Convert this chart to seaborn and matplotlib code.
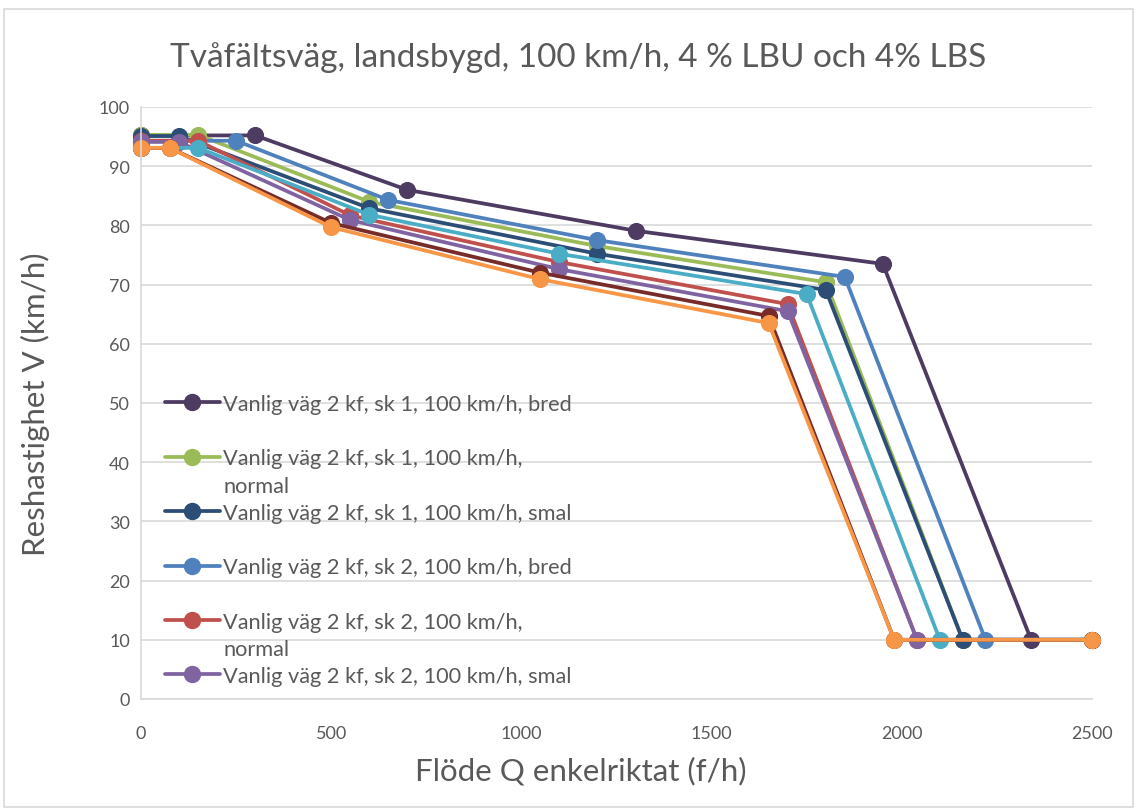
import matplotlib
matplotlib.use("Agg")
import matplotlib.pyplot as plt
import seaborn as sns
import pandas as pd
from matplotlib.lines import Line2D
from matplotlib.patches import Rectangle

# ---------------- data ----------------
title = "Tvåfältsväg, landsbygd, 100 km/h, 4 % LBU och 4% LBS"
x_label = "Flöde Q enkelriktat (f/h)"
y_label = "Reshastighet V (km/h)"

series_names = [
    "Vanlig väg 2 kf, sk 1, 100 km/h, bred",
    "Vanlig väg 2 kf, sk 1, 100 km/h, normal",
    "Vanlig väg 2 kf, sk 1, 100 km/h, smal",
    "Vanlig väg 2 kf, sk 2, 100 km/h, bred",
    "Vanlig väg 2 kf, sk 2, 100 km/h, normal",
    "Vanlig väg 2 kf, sk 2, 100 km/h, smal",
    "Vanlig väg 2 kf, sk 3, 100 km/h, bred",
    "Vanlig väg 2 kf, sk 3, 100 km/h, normal",
    "Vanlig väg 2 kf, sk 3, 100 km/h, smal",
]

q_sk1_bred = [0, 300, 700, 1300, 1950, 2340, 2500]
v_sk1_bred = [95.2, 95.2, 86.0, 79.1, 73.5, 10, 10]
q_sk1_normal = [0, 150, 600, 1200, 1800, 2160, 2500]
v_sk1_normal = [95.3, 95.3, 84.0, 76.5, 70.4, 10, 10]
q_sk1_smal = [0, 100, 600, 1200, 1800, 2160, 2500]
v_sk1_smal = [95.1, 95.1, 82.9, 75.2, 69.1, 10, 10]
q_sk2_bred = [0, 250, 650, 1200, 1850, 2220, 2500]
v_sk2_bred = [94.3, 94.3, 84.3, 77.5, 71.3, 10, 10]
q_sk2_normal = [0, 150, 550, 1100, 1700, 2040, 2500]
v_sk2_normal = [94.3, 94.3, 81.7, 73.8, 66.7, 10, 10]
q_sk2_smal = [0, 100, 550, 1100, 1700, 2040, 2500]
v_sk2_smal = [94.1, 94.1, 80.9, 72.6, 65.5, 10, 10]
q_sk3_bred = [0, 150, 600, 1100, 1750, 2100, 2500]
v_sk3_bred = [93.1, 93.1, 81.8, 75.2, 68.4, 10, 10]
q_sk3_normal = [0, 75, 500, 1050, 1650, 1980, 2500]
v_sk3_normal = [93.1, 93.1, 80.4, 72.0, 64.7, 10, 10]
q_sk3_smal = [0, 75, 500, 1050, 1650, 1980, 2500]
v_sk3_smal = [93.1, 93.1, 79.7, 70.9, 63.5, 10, 10]

x_ticks = [0, 500, 1000, 1500, 2000, 2500]
y_ticks = [0, 10, 20, 30, 40, 50, 60, 70, 80, 90, 100]

colors = ["#4D3B62", "#9BBB59", "#2C4D75", "#4F81BD", "#C0504D",
          "#8064A2", "#4BACC6", "#772C2A", "#F79646"]

all_q = [q_sk1_bred, q_sk1_normal, q_sk1_smal, q_sk2_bred, q_sk2_normal,
         q_sk2_smal, q_sk3_bred, q_sk3_normal, q_sk3_smal]
all_v = [v_sk1_bred, v_sk1_normal, v_sk1_smal, v_sk2_bred, v_sk2_normal,
         v_sk2_smal, v_sk3_bred, v_sk3_normal, v_sk3_smal]

rows = []
for name, qs, vs in zip(series_names, all_q, all_v):
    for i, (q, v) in enumerate(zip(qs, vs)):
        rows.append({"serie": name, "Q": q, "V": v, "idx": i})
df = pd.DataFrame(rows)

# ---------------- style ----------------
sns.set_style("white")
plt.rcParams['font.family'] = ['Lato', 'DejaVu Sans']
text_col = "#595959"
grid_col = "#D9D9D9"

W, H = 1137, 812
fig = plt.figure(figsize=(W / 100, H / 100), dpi=100)
ax = fig.add_axes([141 / W, 1 - 700 / H, (1092 - 141) / W, (700 - 108) / H])

sns.lineplot(data=df, x="Q", y="V", hue="serie", hue_order=series_names,
             palette=colors, estimator=None, sort=False, units="serie",
             marker="o", markersize=11.5, linewidth=2.7, legend=False, ax=ax)
for ln, c in zip(ax.lines, colors):
    ln.set_markeredgecolor(c)
    ln.set_markeredgewidth(0.8)
    ln.set_solid_joinstyle("round")
    ln.set_clip_on(False)

ax.set_xlim(0, 2500)
ax.set_ylim(0, 100)
ax.set_xticks(x_ticks)
ax.set_yticks(y_ticks)
ax.set_xticklabels([str(t) for t in x_ticks])
ax.set_yticklabels([str(t) for t in y_ticks])
ax.tick_params(axis="both", length=0, labelsize=13, labelcolor=text_col)
ax.tick_params(axis="y", pad=8)
ax.tick_params(axis="x", pad=19)
ax.yaxis.grid(True, color=grid_col, linewidth=1.2)
ax.set_axisbelow(True)
for s in ["top", "right"]:
    ax.spines[s].set_visible(False)
for s in ["left", "bottom"]:
    ax.spines[s].set_color(grid_col)
    ax.spines[s].set_linewidth(1.2)

ax.set_xlabel(x_label, fontsize=22.5, color=text_col)
ax.set_ylabel(y_label, fontsize=22.5, color=text_col)
ax.xaxis.set_label_coords(0.4626, (700 - 771) / 592)
ax.xaxis.label.set_va("center")
ax.yaxis.set_label_coords((35 - 141) / 951, (700 - 404) / 592)
ax.yaxis.label.set_va("center")
fig.text(578 / W, 1 - 58 / H, title, fontsize=24, color=text_col,
         ha="center", va="center")

# legend (first six series, Excel-like row layout)
def mk(c):
    return Line2D([], [], color=c, linewidth=2.7, marker="o", markersize=11.5,
                  markeredgecolor=c)
blank = Line2D([], [], linestyle="none")
leg_handles = [mk(colors[0]), blank, mk(colors[1]), blank, mk(colors[2]), blank,
               mk(colors[3]), blank, mk(colors[4]), blank, mk(colors[5])]
leg_labels = [series_names[0], " ",
              "Vanlig väg 2 kf, sk 1, 100 km/h,", "normal",
              series_names[2], " ", series_names[3], " ",
              "Vanlig väg 2 kf, sk 2, 100 km/h,", "normal",
              series_names[5]]
leg = ax.legend(leg_handles, leg_labels, loc="upper left",
                bbox_to_anchor=(165 / W, 1 - 395 / H),
                bbox_transform=fig.transFigure, frameon=False,
                fontsize=15.7, labelcolor=text_col, handlelength=2.5,
                handletextpad=0.18, labelspacing=0.33, borderpad=0,
                borderaxespad=0)

fig.patches.append(Rectangle((4 / W, 4 / H), (W - 8) / W, (H - 14) / H,
                             transform=fig.transFigure, fill=False,
                             edgecolor=grid_col, linewidth=1.2))

fig.savefig("out.png", dpi=100)
